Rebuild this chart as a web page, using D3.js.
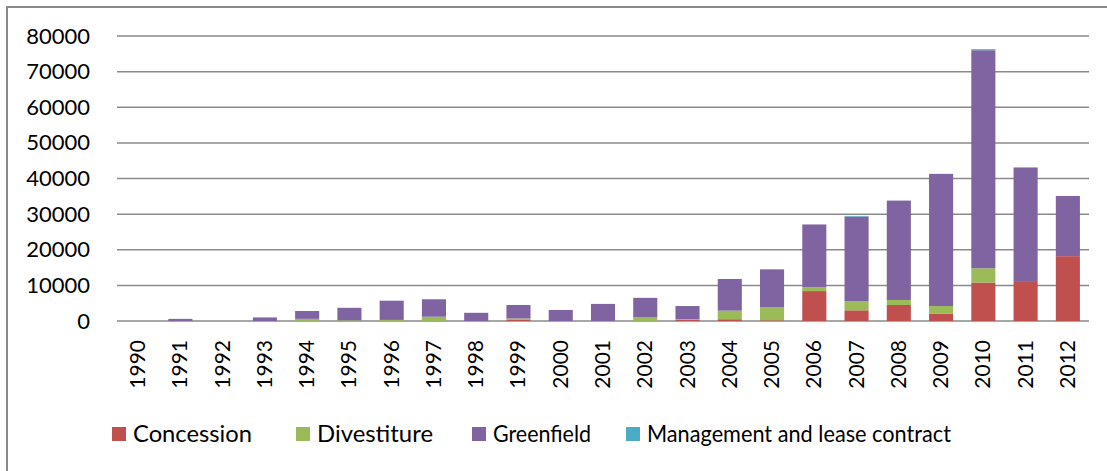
<!DOCTYPE html>
<html>
<head>
<meta charset="utf-8">
<script src="https://cdn.jsdelivr.net/npm/d3@7"></script>
<style>
  body { margin: 0; background: #fff; }
  svg { display: block; font-family: Lato, "Open Sans", sans-serif; }
</style>
</head>
<body>
<svg id="chart" width="1107" height="471"></svg>
<script>
// values (US$ millions, stacked)
let years = ["1990","1991","1992","1993","1994","1995","1996","1997","1998","1999","2000","2001",
             "2002","2003","2004","2005","2006","2007","2008","2009","2010","2011","2012"];
let concession  = [0,0,0,0,0,0,0,0,0,300,0,0,0,300,500,200,8400,3000,4500,2100,10800,11200,18200];
let divestiture = [0,0,0,0,600,200,300,1200,0,400,0,0,1000,200,2400,3700,1100,2600,1400,2100,4000,0,0];
let greenfield  = [0,600,0,1000,2200,3500,5400,4900,2300,3800,3100,4800,5500,3700,8900,10600,17600,23700,27900,37100,61200,31900,16900];
let management  = [0,0,0,0,0,0,0,0,0,0,0,0,0,0,0,0,0,200,0,0,300,0,0];
let seriesNames = ["Concession", "Divestiture", "Greenfield", "Management and lease contract"];
let seriesColors = ["#C0504D", "#9BBB59", "#8064A2", "#4BACC6"];
let yTicks = [0,10000,20000,30000,40000,50000,60000,70000,80000];

let svg = d3.select("#chart");
let plotLeft = 117, plotRight = 1089, plotTop = 36, plotBottom = 321;

let rows = years.map((y, i) => ({
    year: y,
    Concession: concession[i],
    Divestiture: divestiture[i],
    Greenfield: greenfield[i],
    "Management and lease contract": management[i]
}));

let stacked = d3.stack().keys(seriesNames)(rows);

let xScale = d3.scaleBand().domain(years).range([plotLeft, plotRight]).paddingInner(0.43).paddingOuter(0.215);
let yScale = d3.scaleLinear().domain([0, 80000]).range([plotBottom, plotTop]);

// outer frame (only left and top edges show)
svg.append("path")
    .attr("d", "M7,471V7H1107")
    .attr("fill", "none")
    .attr("stroke", "#8a8a8a")
    .attr("stroke-width", 2);

// gridlines
svg.append("g")
    .selectAll("line")
    .data(yTicks)
    .enter()
    .append("line")
    .attr("x1", plotLeft)
    .attr("x2", plotRight)
    .attr("y1", d => yScale(d))
    .attr("y2", d => yScale(d))
    .attr("stroke", "#8a8a8a")
    .attr("stroke-width", 1.5);

// y axis labels
let yAxis = svg.append("g")
    .attr("transform", `translate(${plotLeft},0)`)
    .call(d3.axisLeft(yScale).tickValues(yTicks).tickFormat(d3.format("d")).tickSize(0).tickPadding(27));
yAxis.select(".domain").remove();
yAxis.selectAll("text")
    .attr("font-family", "Lato, sans-serif")
    .attr("font-size", 22)
    .attr("fill", "#000");

// bars
svg.append("g")
    .selectAll("g")
    .data(stacked)
    .enter()
    .append("g")
    .attr("fill", (d, i) => seriesColors[i])
    .selectAll("rect")
    .data(d => d)
    .enter()
    .append("rect")
    .attr("x", d => xScale(d.data.year))
    .attr("width", xScale.bandwidth())
    .attr("y", d => yScale(d[1]))
    .attr("height", d => Math.max(0, yScale(d[0]) - yScale(d[1])));

// x axis labels, rotated
let xAxis = svg.append("g")
    .attr("transform", `translate(0,${plotBottom})`)
    .call(d3.axisBottom(xScale).tickSize(0).tickPadding(0));
xAxis.select(".domain").remove();
xAxis.selectAll("text")
    .attr("font-family", "Lato, sans-serif")
    .attr("font-size", 21)
    .attr("fill", "#000")
    .attr("text-anchor", "end")
    .attr("dy", null)
    .attr("transform", "translate(7,19) rotate(-90)");

// legend
let legendX = [112, 296, 472, 626];
let legendTextWidth = [119, 116, 98, 304];
let legend = svg.append("g")
    .selectAll("g")
    .data(seriesNames)
    .enter()
    .append("g")
    .attr("transform", (d, i) => `translate(${legendX[i]},427)`);
legend.append("rect")
    .attr("width", 14)
    .attr("height", 14)
    .attr("fill", (d, i) => seriesColors[i]);
legend.append("text")
    .attr("x", 21)
    .attr("y", 15)
    .attr("font-family", "Lato, sans-serif")
    .attr("font-size", 23)
    .attr("fill", "#000")
    .attr("textLength", (d, i) => legendTextWidth[i])
    .attr("lengthAdjust", "spacingAndGlyphs")
    .text(d => d);
</script>
</body>
</html>
